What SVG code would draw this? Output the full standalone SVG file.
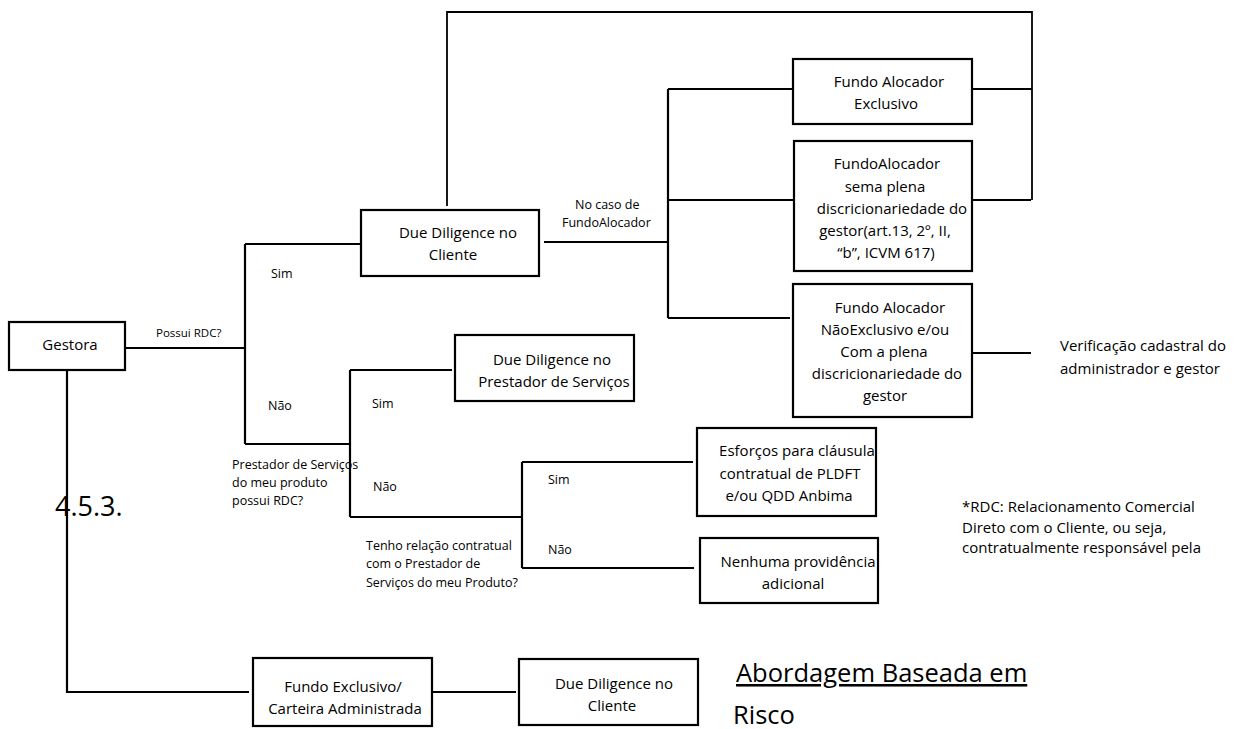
<svg xmlns="http://www.w3.org/2000/svg" width="1246" height="729" viewBox="0 0 1246 729">
<style>
text{font-family:"Open Sans","Noto Sans",sans-serif;fill:#000}
.n rect{fill:#fff;stroke:#000;stroke-width:2.2}
.n text{font-size:15px;text-anchor:middle}
.c{fill:none;stroke:#000;stroke-width:2.2}
.l{font-size:12.5px}
.s{font-size:15px}
</style>
<rect width="1246" height="729" fill="#fff"/>
<g id="connectors" class="c">
<path d="M126 348H245M245 244V444M245 244H361"/>
<path d="M447 206V12H1032V200" stroke-width="1.8"/>
<path d="M544 242H668M668 89V318M668 89H793M668 200H794M668 318H790"/>
<path d="M972 89H1032M972 200H1031" stroke-width="1.8"/>
<path d="M972 353H1031"/>
<path d="M245 444H350M350 370V517M350 370H452M350 517H522M522 462V568M522 462H693M522 568H694"/>
<path d="M67 370V692H249M432 692H516"/>
</g>
<g id="gestora" class="n"><rect x="9" y="322" width="116" height="48"/><text x="70" y="350">Gestora</text></g>
<g id="dd-cliente" class="n"><rect x="361" y="210" width="178" height="66"/><text x="458" y="238">Due Diligence no</text><text x="453" y="260">Cliente</text></g>
<g id="fundo-alocador-exclusivo" class="n"><rect x="793" y="59" width="179" height="65"/><text x="889" y="87">Fundo Alocador</text><text x="886" y="109">Exclusivo</text></g>
<g id="fundo-alocador-sem" class="n"><rect x="794" y="141" width="178" height="130"/><text x="887" y="169">FundoAlocador</text><text x="885" y="192">sema plena</text><text x="892" y="214">discricionariedade do</text><text x="885" y="236">gestor(art.13, 2º, II,</text><text x="886" y="258">“b”, ICVM 617)</text></g>
<g id="fundo-alocador-nao-exclusivo" class="n"><rect x="793" y="284" width="179" height="133"/><text x="890" y="313">Fundo Alocador</text><text x="885" y="335">NãoExclusivo e/ou</text><text x="884" y="357">Com a plena</text><text x="887" y="379">discricionariedade do</text><text x="885" y="401">gestor</text></g>
<g id="dd-prestador" class="n"><rect x="455" y="335" width="179" height="66"/><text x="552" y="365">Due Diligence no</text><text x="554" y="387">Prestador de Serviços</text></g>
<g id="esforcos" class="n"><rect x="697" y="428" width="179" height="88"/><text x="797" y="456">Esforços para cláusula</text><text x="790" y="479">contratual de PLDFT</text><text x="789" y="501">e/ou QDD Anbima</text></g>
<g id="nenhuma" class="n"><rect x="700" y="538" width="178" height="65"/><text x="798" y="567">Nenhuma providência</text><text x="793" y="589">adicional</text></g>
<g id="fundo-exclusivo" class="n"><rect x="253" y="658" width="179" height="68"/><text x="343" y="692">Fundo Exclusivo/</text><text x="345" y="714">Carteira Administrada</text></g>
<g id="dd-cliente-2" class="n"><rect x="519" y="659" width="179" height="66"/><text x="614" y="689">Due Diligence no</text><text x="612" y="711">Cliente</text></g>
<g id="labels">
<text class="l" x="156" y="337" style="font-size:11.5px">Possui RDC?</text>
<text class="l" x="271" y="278">Sim</text>
<text class="l" x="268" y="410">Não</text>
<text class="l" x="575" y="209">No caso de</text>
<text class="l" x="562" y="227">FundoAlocador</text>
<text class="l" x="372" y="408">Sim</text>
<text class="l" x="232" y="469">Prestador de Serviços</text>
<text class="l" x="232" y="487">do meu produto</text>
<text class="l" x="232" y="505">possui RDC?</text>
<text class="l" x="373" y="491">Não</text>
<text class="l" x="548" y="484">Sim</text>
<text class="l" x="548" y="554">Não</text>
<text class="l" x="366" y="550">Tenho relação contratual</text>
<text class="l" x="366" y="568">com o Prestador de</text>
<text class="l" x="366" y="587">Serviços do meu Produto?</text>
<text style="font-size:27px" x="55" y="516">4.5.3.</text>
<text class="s" x="1060" y="351">Verificação cadastral do</text>
<text class="s" x="1060" y="374">administrador e gestor</text>
<text class="s" x="962" y="512">*RDC: Relacionamento Comercial</text>
<text class="s" x="962" y="533">Direto com o Cliente, ou seja,</text>
<text class="s" x="962" y="553">contratualmente responsável pela</text>
<text style="font-size:25.5px;text-decoration:underline" x="736" y="682">Abordagem Baseada em</text>
<text style="font-size:25.5px" x="733" y="724">Risco</text>
</g>
</svg>
